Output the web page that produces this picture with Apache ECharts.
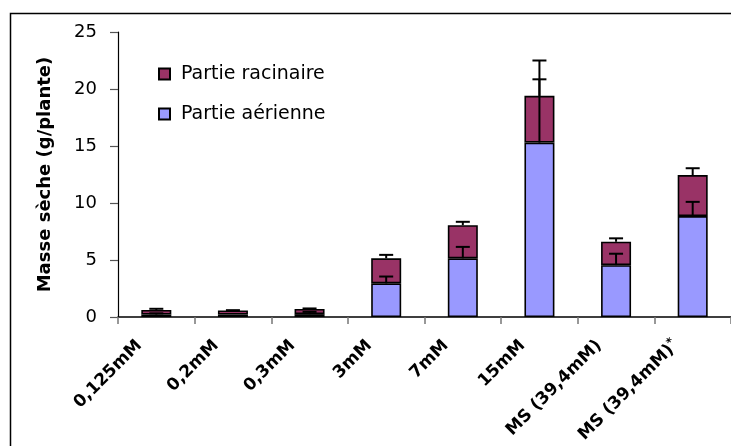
<!DOCTYPE html>
<html><head><meta charset="utf-8">
<script src="https://cdn.jsdelivr.net/npm/echarts@6/dist/echarts.min.js"></script>
<style>html,body{margin:0;padding:0;background:#fff}#c{width:731px;height:446px}</style>
</head><body><div id="c"></div>
<script>
const categories = ['0,125mM', '0,2mM', '0,3mM', '3mM', '7mM', '15mM', 'MS (39,4mM)', 'MS (39,4mM)*'];
const aerienne = [0.22, 0.22, 0.25, 2.95, 5.15, 15.3, 4.55, 8.85];
const racinaire = [0.40, 0.35, 0.45, 2.2, 2.9, 4.1, 2.05, 3.6];
const errAerienne = [0.1, 0, 0.2, 0.6, 1.0, 5.55, 1.0, 1.25];
const errRacinaire = [0.1, 0.03, 0.05, 0.3, 0.3, 3.1, 0.3, 0.6];
const yMin = 0, yMax = 25, yStep = 5;

const errAerData = categories.map((c, i) => [i, aerienne[i], aerienne[i] + errAerienne[i]]);
const errRacData = categories.map((c, i) => [i, aerienne[i] + racinaire[i], aerienne[i] + racinaire[i] + errRacinaire[i]]);

function renderErr(params, api) {
  const i = api.value(0), lo = api.value(1), hi = api.value(2);
  if (hi - lo <= 0.001) return null;
  const p1 = api.coord([i, lo]);
  const p2 = api.coord([i, hi]);
  const cap = 7;
  const st = { stroke: '#000', lineWidth: 2 };
  return {
    type: 'group',
    children: [
      { type: 'line', shape: { x1: p1[0], y1: p1[1], x2: p2[0], y2: p2[1] }, style: st },
      { type: 'line', shape: { x1: p2[0] - cap, y1: p2[1], x2: p2[0] + cap, y2: p2[1] }, style: st }
    ]
  };
}

const chart = echarts.init(document.getElementById('c'));
const FONT = 'DejaVu Sans';
chart.setOption({
  animation: false,
  backgroundColor: '#fff',
  graphic: [{
    type: 'rect', z: 100, silent: true,
    shape: { x: 10.5, y: 13.5, width: 760, height: 460 },
    style: { fill: 'none', stroke: '#000', lineWidth: 1.5 }
  }],
  legend: {
    orient: 'vertical', left: 153, top: 58,
    icon: 'rect',
    itemWidth: 11, itemHeight: 11, itemGap: 18,
    data: ['Partie racinaire', 'Partie aérienne'],
    textStyle: { fontFamily: FONT, fontSize: 19, color: '#000', padding: [0, 0, 0, 6], lineHeight: 22 }
  },
  grid: { left: 118, top: 32, width: 614, height: 285, containLabel: false },
  xAxis: {
    type: 'category', data: categories,
    axisLine: { lineStyle: { color: '#000', width: 1.5 } },
    axisTick: { show: true, length: 7, lineStyle: { color: '#777', width: 1.5 } },
    axisLabel: {
      interval: 0, rotate: 45, margin: 9,
      fontFamily: FONT, fontWeight: 'bold', fontSize: 17, color: '#000',
      padding: [0, 24, 0, 0],
      formatter: function (v) {
        if (v.endsWith('*')) return '{a|' + v.slice(0, -1) + '}{s|*}';
        return '{a|' + v + '}';
      },
      rich: {
        a: { fontFamily: FONT, fontWeight: 'bold', fontSize: 17, color: '#000' },
        s: { fontFamily: FONT, fontWeight: 'bold', fontSize: 12, color: '#000', verticalAlign: 'top', padding: [0, 0, 8, 0] }
      }
    }
  },
  yAxis: {
    type: 'value', min: yMin, max: yMax, interval: yStep,
    name: 'Masse sèche (g/plante)', nameLocation: 'middle', nameGap: 64,
    nameTextStyle: { fontFamily: FONT, fontWeight: 'bold', fontSize: 18, color: '#000' },
    axisLine: { show: true, lineStyle: { color: '#000', width: 1.2 } },
    axisTick: { show: true, length: 8, lineStyle: { color: '#555', width: 1.2 } },
    axisLabel: { margin: 21, fontFamily: FONT, fontSize: 18, color: '#000' },
    splitLine: { show: false }
  },
  series: [
    {
      name: 'Partie aérienne', type: 'bar', stack: 'tot', barWidth: 30, data: aerienne,
      itemStyle: { color: '#9999FF', borderColor: '#000', borderWidth: 1.6 }
    },
    {
      name: 'Partie racinaire', type: 'bar', stack: 'tot', barWidth: 30, data: racinaire,
      itemStyle: { color: '#993366', borderColor: '#000', borderWidth: 1.6 }
    },
    { type: 'custom', name: 'errA', renderItem: renderErr, data: errAerData, z: 10, silent: true },
    { type: 'custom', name: 'errR', renderItem: renderErr, data: errRacData, z: 10, silent: true }
  ]
});
</script></body></html>
